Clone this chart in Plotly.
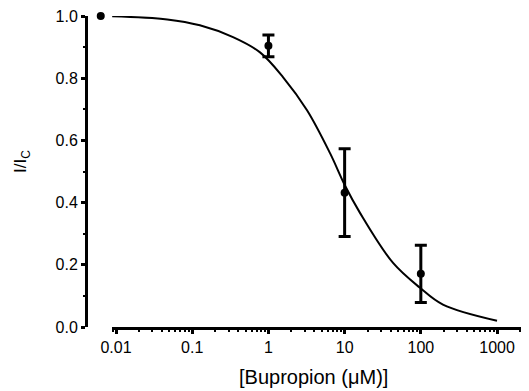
import plotly.graph_objects as go

# Data
conc = [0.0063, 1, 10, 100]           # µM
mean = [1.0, 0.904, 0.432, 0.171]
sem = [0.0, 0.035, 0.141, 0.092]

fit_x = [0.0089, 0.047, 0.126, 0.343, 0.776, 1.56, 3.21, 6.43, 10.1, 15.9, 43.2, 97.7, 195, 1000]
fit_y = [0.999, 0.989, 0.970, 0.932, 0.883, 0.803, 0.697, 0.559, 0.455, 0.367, 0.206, 0.126, 0.072, 0.020]

x_tickvals = [0.01, 0.1, 1, 10, 100, 1000]
x_ticktext = ["0.01", "0.1", "1", "10", "100", "1000"]
y_tickvals = [0.0, 0.2, 0.4, 0.6, 0.8, 1.0]
y_ticktext = ["0.0", "0.2", "0.4", "0.6", "0.8", "1.0"]

FONT = "Liberation Sans, Arial, sans-serif"

# layout geometry (pixels in the screenshot); the page body adds an 8px offset
OFF = 8
W, H = 529 - OFF, 391 - OFF
ML, MR, MT, MB = 88 - OFF, 4, 16 - OFF, 64
PW = W - ML - MR
PH = H - MT - MB
DEC = 76.2                      # pixels per decade
XMAX = 3.367                    # log10 of right end
AXIS_START_PX = 112 - OFF       # where the drawn x axis begins
data_lo = XMAX - PW / DEC
vis_dom0 = (AXIS_START_PX - ML) / PW
vis_lo = XMAX - PW * (1 - vis_dom0) / DEC


def px_x(p):
    return (p - OFF - ML) / PW


def px_y(p):
    return (H - MB - (p - OFF)) / PH


fig = go.Figure()
fig.add_trace(go.Scatter(
    x=fit_x, y=fit_y, mode="lines", line=dict(color="black", width=2, shape="spline"),
    hoverinfo="skip", showlegend=False))
fig.add_trace(go.Scatter(
    x=conc[1:], y=mean[1:], mode="markers",
    marker=dict(color="black", size=8),
    error_y=dict(type="data", array=sem[1:], visible=True, color="black", thickness=3, width=6),
    cliponaxis=False, showlegend=False))
fig.add_trace(go.Scatter(
    x=conc[:1], y=mean[:1], mode="markers",
    marker=dict(color="black", size=8),
    cliponaxis=False, showlegend=False))
# empty trace so the visible (offset) x axis is drawn
fig.add_trace(go.Scatter(x=[], y=[], xaxis="x2", yaxis="y", showlegend=False, hoverinfo="skip"))

axis_common = dict(
    showline=True, linecolor="black", linewidth=3,
    ticks="outside", ticklen=4, tickwidth=2.5, tickcolor="black",
    showgrid=False, zeroline=False, automargin=False,
    ticklabeloverflow="allow",
    tickfont=dict(size=16),
)

fig.update_layout(
    width=W, height=H,
    margin=dict(l=ML, r=MR, t=MT, b=MB),
    paper_bgcolor="white", plot_bgcolor="rgba(0,0,0,0)",
    font=dict(family=FONT, color="black", size=16),
    showlegend=False,
    xaxis=dict(
        type="log", range=[data_lo, XMAX], domain=[0, 1],
        visible=False, showgrid=False, zeroline=False, automargin=False,
    ),
    xaxis2=dict(
        type="log", range=[vis_lo, XMAX], domain=[vis_dom0, 1],
        anchor="y",
        tickvals=x_tickvals, ticktext=x_ticktext,
        minor=dict(ticks="outside", ticklen=2, tickwidth=1.5, tickcolor="black", dtick="D1", showgrid=False),
        **axis_common,
    ),
    yaxis=dict(
        range=[0, 1.0], anchor="x",
        tickvals=y_tickvals, ticktext=y_ticktext,
        minor=dict(ticks="outside", ticklen=2, tickwidth=1.5, tickcolor="black", dtick=0.1, showgrid=False),
        **axis_common,
    ),
    annotations=[
        dict(text="[Bupropion (μM)]", xref="paper", yref="paper",
             x=px_x(313.5), y=px_y(377),
             xanchor="center", yanchor="middle", showarrow=False,
             borderpad=0, font=dict(size=20)),
        dict(text="I/I<sub>C</sub>", xref="paper", yref="paper", textangle=-90,
             x=px_x(22), y=px_y(162),
             xanchor="center", yanchor="middle", showarrow=False,
             font=dict(size=17)),
    ],
)

fig.write_html("out.html")
